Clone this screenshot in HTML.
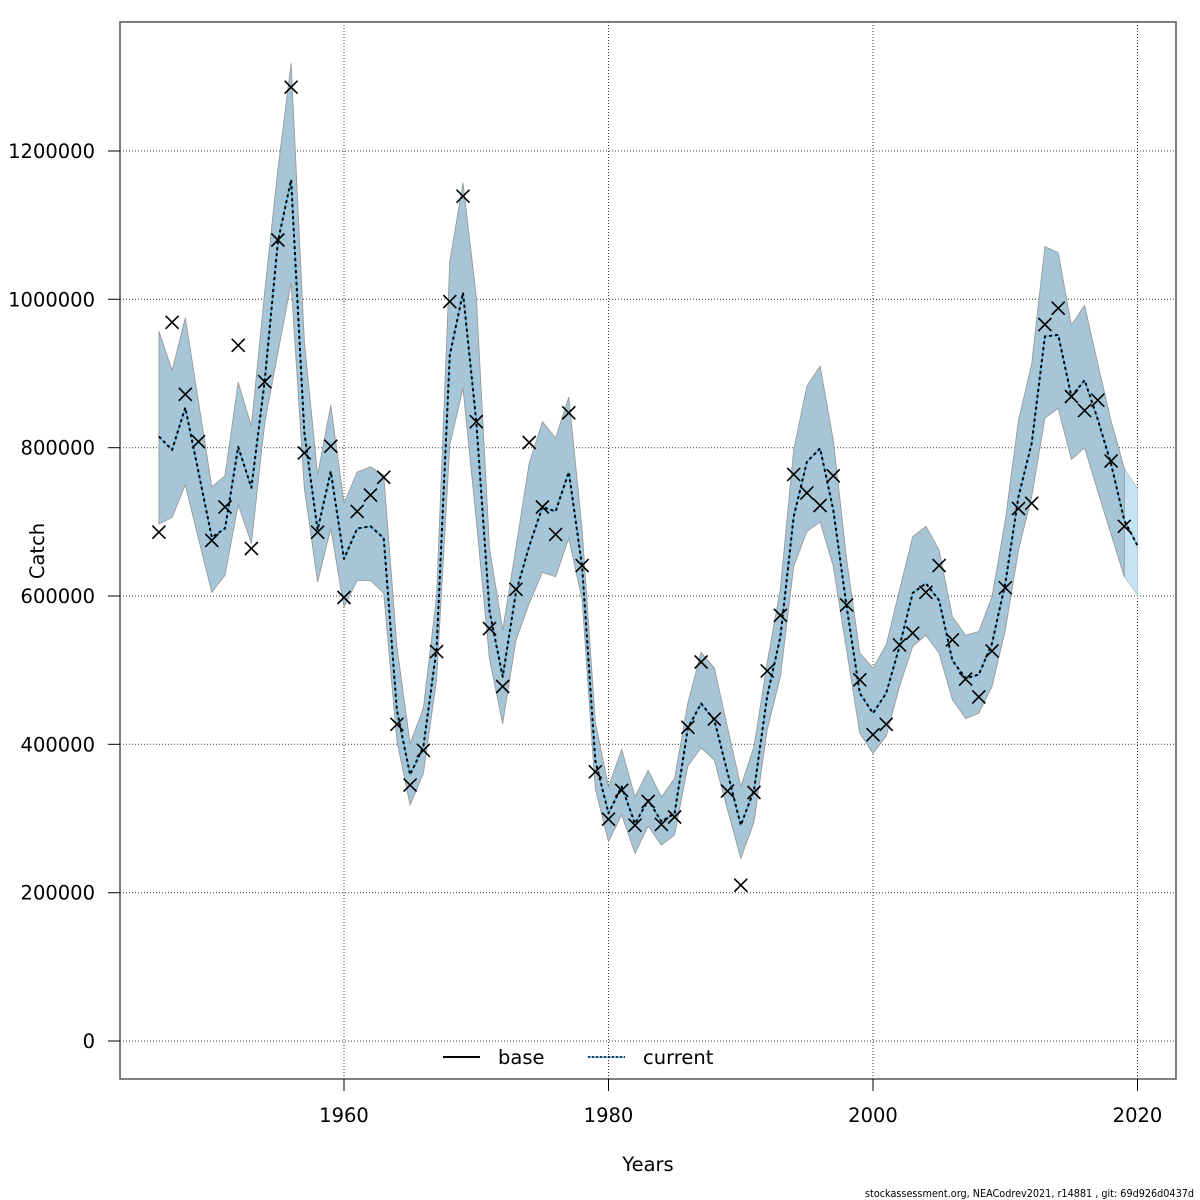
<!DOCTYPE html>
<html><head><meta charset="utf-8"><style>
html,body{margin:0;padding:0;background:#fff;}
svg{display:block;}
text{font-family:"DejaVu Sans","Liberation Sans",sans-serif;fill:#000;}
</style></head><body>
<svg width="1200" height="1200" viewBox="0 0 1200 1200" xmlns="http://www.w3.org/2000/svg">
<defs>
<clipPath id="pa"><rect x="120" y="22" width="1056" height="1057"/></clipPath>
<path id="c" d="M-6.5,-6.5L6.5,6.5M-6.5,6.5L6.5,-6.5" stroke="#000" stroke-width="1.6" fill="none"/>
</defs>
<rect width="1200" height="1200" fill="#fff"/>

<!-- grid -->
<g stroke="#333" stroke-width="1" stroke-dasharray="1,2" fill="none">
<line x1="120" y1="1041" x2="1176" y2="1041"/>
<line x1="120" y1="892.7" x2="1176" y2="892.7"/>
<line x1="120" y1="744.3" x2="1176" y2="744.3"/>
<line x1="120" y1="596" x2="1176" y2="596"/>
<line x1="120" y1="447.7" x2="1176" y2="447.7"/>
<line x1="120" y1="299.3" x2="1176" y2="299.3"/>
<line x1="120" y1="151" x2="1176" y2="151"/>
<line x1="344" y1="22" x2="344" y2="1079"/>
<line x1="608.5" y1="22" x2="608.5" y2="1079"/>
<line x1="873" y1="22" x2="873" y2="1079"/>
<line x1="1137.5" y1="22" x2="1137.5" y2="1079"/>
</g>

<g clip-path="url(#pa)">
<!-- current-only band 2019-2020 -->
<polygon points="1124.3,468.4 1137.5,488.5 1137.5,595.3 1124.3,576.7" fill="#c4e3f3" stroke="#b0c8d4" stroke-width="0.8"/>
<!-- overlapping band -->
<polygon fill="#a6c6d7" stroke="#9a9a9a" stroke-width="0.9" stroke-linejoin="round" points="
158.9,331.2 172.1,370.5 185.3,317.9 198.5,401.7 211.8,487.0 225.0,475.8 238.2,382.4 251.4,426.2 264.7,291.9 277.9,169.5 291.1,63.5 304.3,340.9 317.6,475.1 330.8,405.4 344.0,503.3 357.2,472.1 370.5,466.9 383.7,475.1 396.9,646.4 410.1,743.6 423.4,708.0 436.6,596.0 449.8,261.5 463.0,182.9 476.3,297.1 489.5,547.8 502.7,630.1 515.9,547.8 529.2,463.2 542.4,421.7 555.6,438.0 568.8,397.2 582.1,529.2 595.3,722.1 608.5,786.6 621.7,749.5 635.0,797.0 648.2,770.3 661.4,797.0 674.6,778.4 687.9,702.8 701.1,652.4 714.3,667.9 727.5,727.3 740.8,786.6 754.0,746.6 767.2,662.7 780.4,588.6 793.7,449.9 806.9,386.1 820.1,366.1 833.3,440.2 846.6,558.9 859.8,653.1 873.0,667.9 886.2,644.9 899.5,590.1 912.7,536.7 925.9,526.3 939.1,550.0 952.4,616.8 965.6,635.3 978.8,631.6 992.0,596.7 1005.3,520.3 1018.5,420.2 1031.7,363.9 1044.9,246.7 1058.2,252.6 1071.4,325.3 1084.6,305.3 1097.8,363.9 1111.1,421.0 1124.3,468.4
1124.3,576.7 1111.1,534.4 1097.8,491.4 1084.6,447.7 1071.4,459.5 1058.2,408.4 1044.9,418.0 1031.7,496.6 1018.5,550.0 1005.3,630.1 992.0,686.5 978.8,713.2 965.6,718.4 952.4,699.8 939.1,653.1 925.9,635.3 912.7,646.4 899.5,686.5 886.2,736.2 873.0,753.2 859.8,733.2 846.6,650.1 833.3,566.3 820.1,521.8 806.9,531.5 793.7,566.3 780.4,676.8 767.2,729.5 754.0,822.2 740.8,858.5 727.5,809.6 714.3,759.9 701.1,748.0 687.9,765.8 674.6,834.8 661.4,845.2 648.2,825.9 635.0,853.4 621.7,814.8 608.5,841.5 595.3,788.8 582.1,599.7 568.8,538.1 555.6,576.7 542.4,572.3 529.2,603.4 515.9,640.5 502.7,723.6 489.5,659.0 476.3,520.3 463.0,388.3 449.8,444.7 436.6,679.8 423.4,773.3 410.1,805.1 396.9,740.6 383.7,593.0 370.5,580.4 357.2,580.4 344.0,607.1 330.8,528.5 317.6,581.9 304.3,487.7 291.1,283.0 277.9,352.7 264.7,423.2 251.4,543.3 238.2,504.8 225.0,575.2 211.8,592.3 198.5,538.9 185.3,484.7 172.1,517.4 158.9,524.1"/>

<!-- mid line: blue underlay -->
<polyline fill="none" stroke="#5cb8e6" stroke-width="1.6" stroke-linejoin="round" points="
158.9,436.5 172.1,449.9 185.3,407.6 198.5,472.1 211.8,537.4 225.0,528.5 238.2,446.9 251.4,487.7 264.7,380.9 277.9,241.5 291.1,179.9 304.3,432.0 317.6,530.0 330.8,471.4 344.0,558.9 357.2,528.5 370.5,526.3 383.7,538.1 396.9,710.2 410.1,774.7 423.4,746.6 436.6,648.7 449.8,355.0 463.0,292.7 476.3,421.7 489.5,610.8 502.7,676.8 515.9,592.3 529.2,546.3 542.4,507.0 555.6,511.4 568.8,472.1 582.1,566.3 595.3,760.6 608.5,813.3 621.7,786.6 635.0,823.7 648.2,800.0 661.4,821.5 674.6,813.3 687.9,728.0 701.1,703.5 714.3,719.9 727.5,772.5 740.8,825.2 754.0,790.3 767.2,696.1 780.4,636.8 793.7,516.6 806.9,461.8 820.1,448.4 833.3,510.0 846.6,606.4 859.8,693.2 873.0,713.2 886.2,693.2 899.5,646.4 912.7,593.0 925.9,583.4 939.1,600.4 952.4,660.5 965.6,678.3 978.8,674.6 992.0,643.5 1005.3,583.4 1018.5,496.6 1031.7,443.2 1044.9,336.4 1058.2,334.9 1071.4,396.5 1084.6,380.2 1097.8,419.5 1111.1,464.0 1124.3,520.3 1137.5,545.6"/>
<!-- mid line: black dashes -->
<polyline fill="none" stroke="#000" stroke-width="2" stroke-dasharray="3,3" stroke-linejoin="round" points="
158.9,436.5 172.1,449.9 185.3,407.6 198.5,472.1 211.8,537.4 225.0,528.5 238.2,446.9 251.4,487.7 264.7,380.9 277.9,241.5 291.1,179.9 304.3,432.0 317.6,530.0 330.8,471.4 344.0,558.9 357.2,528.5 370.5,526.3 383.7,538.1 396.9,710.2 410.1,774.7 423.4,746.6 436.6,648.7 449.8,355.0 463.0,292.7 476.3,421.7 489.5,610.8 502.7,676.8 515.9,592.3 529.2,546.3 542.4,507.0 555.6,511.4 568.8,472.1 582.1,566.3 595.3,760.6 608.5,813.3 621.7,786.6 635.0,823.7 648.2,800.0 661.4,821.5 674.6,813.3 687.9,728.0 701.1,703.5 714.3,719.9 727.5,772.5 740.8,825.2 754.0,790.3 767.2,696.1 780.4,636.8 793.7,516.6 806.9,461.8 820.1,448.4 833.3,510.0 846.6,606.4 859.8,693.2 873.0,713.2 886.2,693.2 899.5,646.4 912.7,593.0 925.9,583.4 939.1,600.4 952.4,660.5 965.6,678.3 978.8,674.6 992.0,643.5 1005.3,583.4 1018.5,496.6 1031.7,443.2 1044.9,336.4 1058.2,334.9 1071.4,396.5 1084.6,380.2 1097.8,419.5 1111.1,464.0 1124.3,520.3 1137.5,545.6"/>
</g>

<!-- crosses -->
<g>
<use href="#c" x="158.9" y="532.2"/><use href="#c" x="172.1" y="322.3"/><use href="#c" x="185.3" y="394.3"/><use href="#c" x="198.5" y="441.7"/><use href="#c" x="211.8" y="540.4"/><use href="#c" x="225.0" y="507.0"/><use href="#c" x="238.2" y="345.3"/><use href="#c" x="251.4" y="548.5"/><use href="#c" x="264.7" y="381.7"/><use href="#c" x="277.9" y="240.0"/>
<use href="#c" x="291.1" y="87.2"/><use href="#c" x="304.3" y="452.9"/><use href="#c" x="317.6" y="532.2"/><use href="#c" x="330.8" y="446.2"/><use href="#c" x="344.0" y="597.5"/><use href="#c" x="357.2" y="511.4"/><use href="#c" x="370.5" y="495.1"/><use href="#c" x="383.7" y="477.3"/><use href="#c" x="396.9" y="724.3"/><use href="#c" x="410.1" y="785.1"/>
<use href="#c" x="423.4" y="750.3"/><use href="#c" x="436.6" y="651.6"/><use href="#c" x="449.8" y="301.6"/><use href="#c" x="463.0" y="196.2"/><use href="#c" x="476.3" y="421.7"/><use href="#c" x="489.5" y="628.6"/><use href="#c" x="502.7" y="686.5"/><use href="#c" x="515.9" y="589.3"/><use href="#c" x="529.2" y="442.5"/><use href="#c" x="542.4" y="507.0"/>
<use href="#c" x="555.6" y="534.4"/><use href="#c" x="568.8" y="412.8"/><use href="#c" x="582.1" y="565.6"/><use href="#c" x="595.3" y="771.8"/><use href="#c" x="608.5" y="819.2"/><use href="#c" x="621.7" y="790.3"/><use href="#c" x="635.0" y="825.2"/><use href="#c" x="648.2" y="801.4"/><use href="#c" x="661.4" y="824.4"/><use href="#c" x="674.6" y="817.0"/>
<use href="#c" x="687.9" y="727.3"/><use href="#c" x="701.1" y="662.0"/><use href="#c" x="714.3" y="719.1"/><use href="#c" x="727.5" y="791.1"/><use href="#c" x="740.8" y="885.2"/><use href="#c" x="754.0" y="792.5"/><use href="#c" x="767.2" y="670.9"/><use href="#c" x="780.4" y="615.3"/><use href="#c" x="793.7" y="474.4"/><use href="#c" x="806.9" y="492.9"/>
<use href="#c" x="820.1" y="505.5"/><use href="#c" x="833.3" y="475.8"/><use href="#c" x="846.6" y="604.9"/><use href="#c" x="859.8" y="679.8"/><use href="#c" x="873.0" y="734.7"/><use href="#c" x="886.2" y="724.3"/><use href="#c" x="899.5" y="644.9"/><use href="#c" x="912.7" y="633.1"/><use href="#c" x="925.9" y="592.3"/><use href="#c" x="939.1" y="565.6"/>
<use href="#c" x="952.4" y="639.8"/><use href="#c" x="965.6" y="679.1"/><use href="#c" x="978.8" y="696.9"/><use href="#c" x="992.0" y="650.9"/><use href="#c" x="1005.3" y="587.8"/><use href="#c" x="1018.5" y="508.5"/><use href="#c" x="1031.7" y="503.3"/><use href="#c" x="1044.9" y="324.5"/><use href="#c" x="1058.2" y="308.2"/><use href="#c" x="1071.4" y="396.5"/>
<use href="#c" x="1084.6" y="410.6"/><use href="#c" x="1097.8" y="400.2"/><use href="#c" x="1111.1" y="461.0"/><use href="#c" x="1124.3" y="526.3"/>
</g>

<!-- frame -->
<rect x="120" y="22" width="1056" height="1057" fill="none" stroke="#555" stroke-width="1.5"/>

<!-- ticks -->
<g stroke="#000" stroke-width="1">
<line x1="108" y1="1041" x2="120" y2="1041"/>
<line x1="108" y1="892.7" x2="120" y2="892.7"/>
<line x1="108" y1="744.3" x2="120" y2="744.3"/>
<line x1="108" y1="596" x2="120" y2="596"/>
<line x1="108" y1="447.7" x2="120" y2="447.7"/>
<line x1="108" y1="299.3" x2="120" y2="299.3"/>
<line x1="108" y1="151" x2="120" y2="151"/>
<line x1="344" y1="1079" x2="344" y2="1091"/>
<line x1="608.5" y1="1079" x2="608.5" y2="1091"/>
<line x1="873" y1="1079" x2="873" y2="1091"/>
<line x1="1137.5" y1="1079" x2="1137.5" y2="1091"/>
</g>
<g font-size="19.5" text-anchor="end">
<text x="95" y="1048">0</text>
<text x="95" y="899.7">200000</text>
<text x="95" y="751.3">400000</text>
<text x="95" y="603">600000</text>
<text x="95" y="454.7">800000</text>
<text x="95" y="306.3">1000000</text>
<text x="95" y="158">1200000</text>
</g>
<g font-size="19.5" text-anchor="middle">
<text x="344" y="1122">1960</text>
<text x="608.5" y="1122">1980</text>
<text x="873" y="1122">2000</text>
<text x="1137.5" y="1122">2020</text>
<text x="648" y="1171">Years</text>
<text x="0" y="0" transform="translate(44,551) rotate(-90)">Catch</text>
</g>

<!-- legend -->
<line x1="443" y1="1057" x2="480" y2="1057" stroke="#000" stroke-width="2"/>
<text x="498" y="1064" font-size="19.5">base</text>
<line x1="588" y1="1057" x2="625" y2="1057" stroke="#5cb8e6" stroke-width="1.6"/>
<line x1="588" y1="1057" x2="625" y2="1057" stroke="#000" stroke-width="1.6" stroke-dasharray="2,2"/>
<text x="643" y="1064" font-size="19.5">current</text>

<!-- footer -->
<text x="1194" y="1197" font-size="11" text-anchor="end" textLength="329" lengthAdjust="spacingAndGlyphs">stockassessment.org, NEACodrev2021, r14881 , git: 69d926d0437d</text>
</svg>
</body></html>
